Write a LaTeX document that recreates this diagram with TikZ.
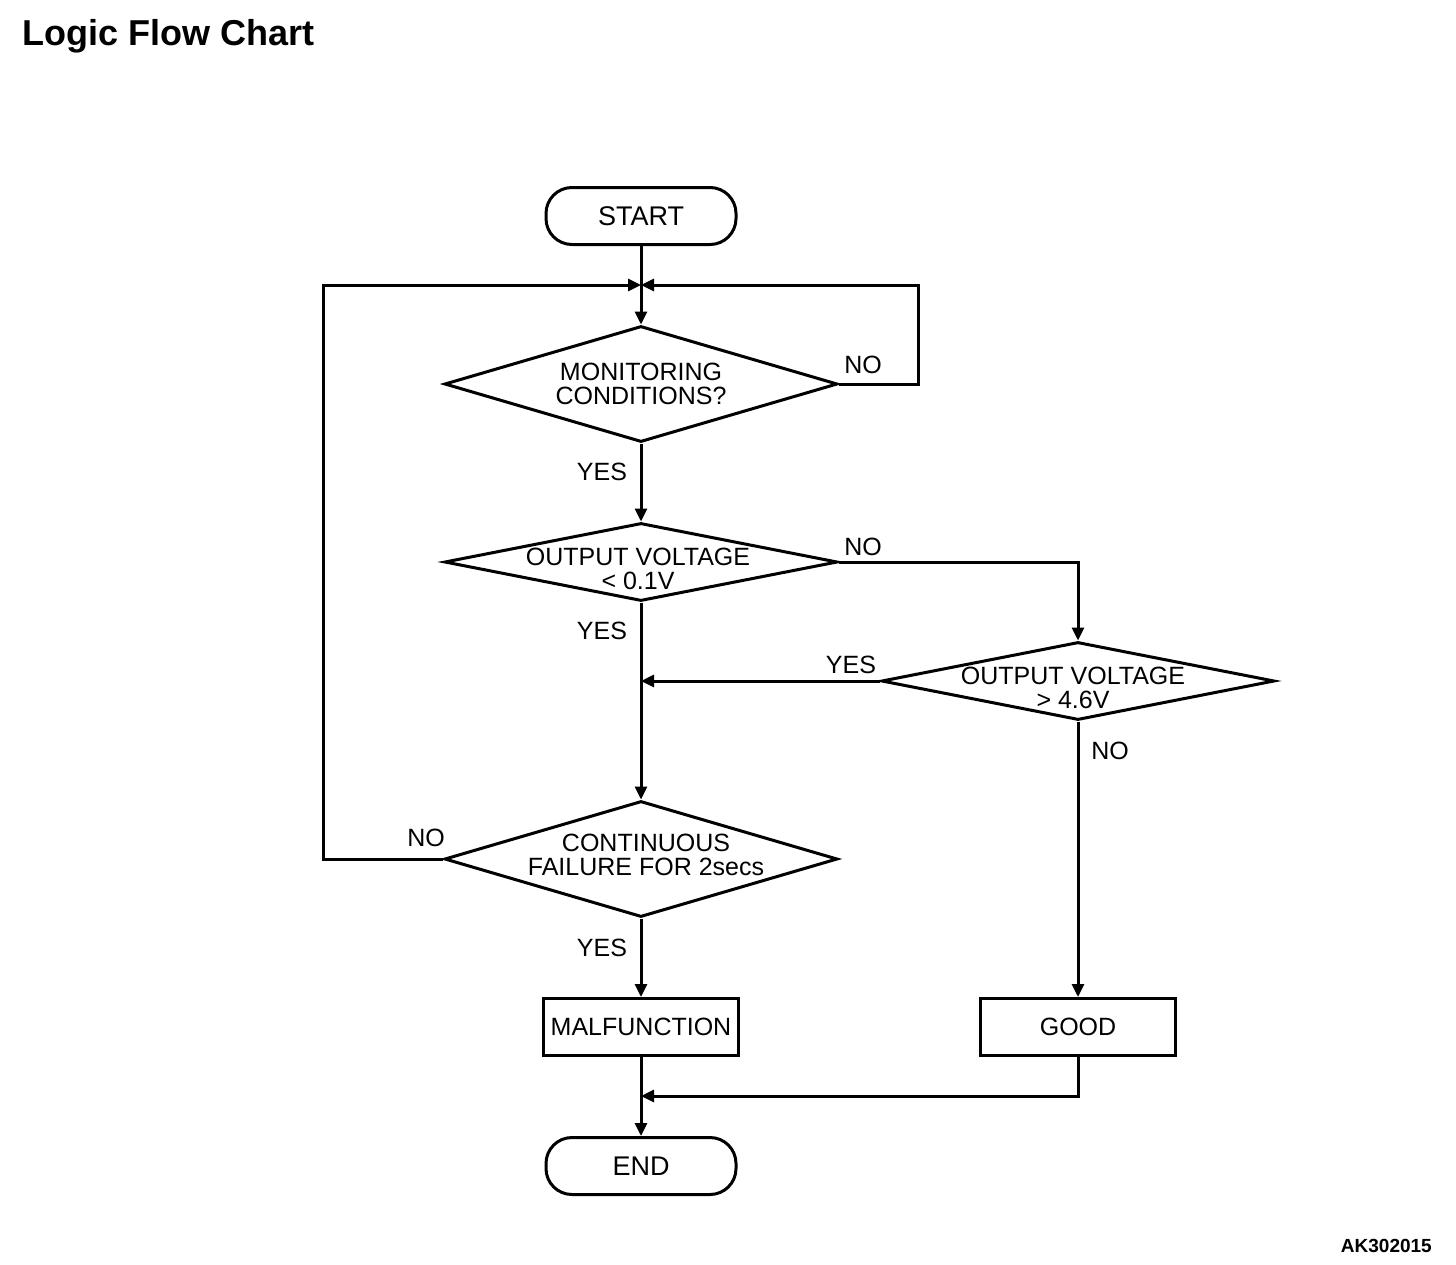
\documentclass[tikz,border=0pt]{standalone}
\usepackage{fontspec}
\setmainfont{Liberation Sans}
\usetikzlibrary{shapes.geometric,arrows.meta}
\begin{document}
\begin{tikzpicture}[x=1pt,y=-1pt,
  every node/.style={font=\fontsize{25}{24}\selectfont, inner sep=0pt},
  term/.style={draw, line width=3pt, rounded corners=26pt, minimum width=190pt, minimum height=57pt, font=\fontsize{27}{27}\selectfont},
  proc/.style={draw, line width=3pt, minimum width=195pt, minimum height=57pt},
  dec/.style={draw, diamond, line width=3pt, minimum width=393pt, minimum height=#1},
  dtext/.style={align=center},
  flow/.style={line width=3pt, -{Triangle[length=13pt,width=12pt]}},
  lbl/.style={anchor=center}
]
\useasboundingbox (0,0) rectangle (1456,1264);
\node[anchor=base west, font=\fontsize{36}{40}\selectfont\bfseries] (title) at (22,45) {Logic Flow Chart};
\node[anchor=base east, font=\fontsize{19}{20}\selectfont\bfseries] (code) at (1432,1252) {AK302015};

\node[term] (start) at (641,216) {START};
\node[dec=116pt] (d1) at (641,384) {};
\node[dtext] (t1) at (641,384) {MONITORING\\CONDITIONS?};
\node[dec=78pt] (d2) at (641,562) {};
\node[dtext] (t2) at (638,569) {OUTPUT VOLTAGE\\< 0.1V};
\node[dec=78pt] (d3) at (1078,681) {};
\node[dtext] (t3) at (1073,688) {OUTPUT VOLTAGE\\> 4.6V};
\node[dec=116pt] (d4) at (641,859) {};
\node[dtext] (t4) at (646,855) {CONTINUOUS\\FAILURE FOR 2secs};
\node[proc] (mal) at (641,1027) {MALFUNCTION};
\node[proc] (good) at (1078,1027) {GOOD};
\node[term] (end) at (641,1166) {END};

\coordinate (m1) at (641,285);
\coordinate (m2) at (641,681);
\coordinate (m3) at (641,1096);

\draw[flow] (start.south) -- (d1.north);
\draw[flow] (d1.east) -- ++(79,0) |- (m1);
\draw[flow] (d4.west) -- ++(-120,0) |- (m1);
\draw[flow] (d1.south) -- (d2.north);
\draw[flow] (d2.south) -- (d4.north);
\draw[flow] (d2.east) -| (d3.north);
\draw[flow] (d3.west) -- (m2);
\draw[flow] (d3.south) -- (good.north);
\draw[flow] (d4.south) -- (mal.north);
\draw[flow] (mal.south) -- (end.north);
\draw[flow] (good.south) |- (m3);

\node[lbl] (no1) at (863,365) {NO};
\node[lbl] (yes1) at (602,472) {YES};
\node[lbl] (no2) at (863,547) {NO};
\node[lbl] (yes2) at (602,631) {YES};
\node[lbl] (yes3) at (851,665) {YES};
\node[lbl] (no3) at (1110,751) {NO};
\node[lbl] (no4) at (426,838) {NO};
\node[lbl] (yes4) at (602,948) {YES};
\end{tikzpicture}
\end{document}
